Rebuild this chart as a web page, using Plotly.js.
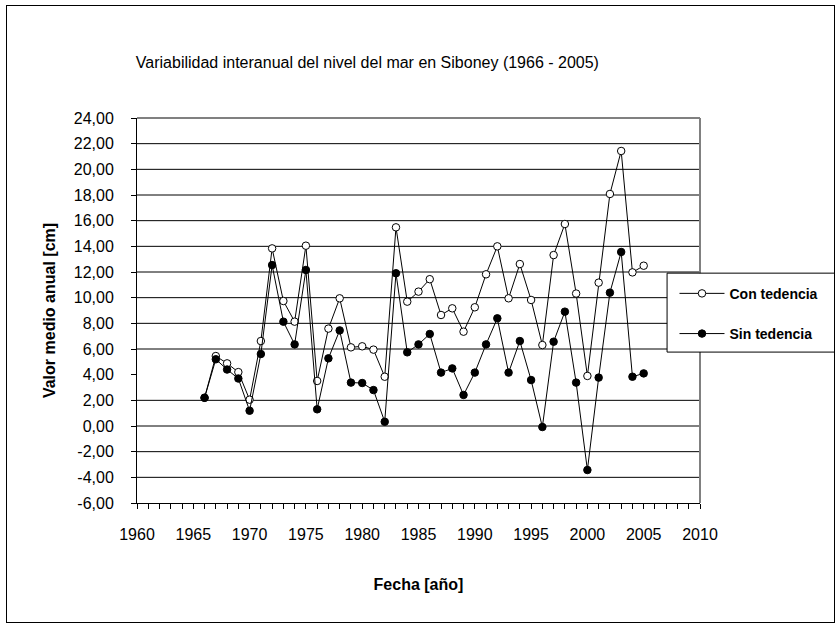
<!DOCTYPE html>
<html>
<head>
<meta charset="utf-8">
<script src="https://cdn.plot.ly/plotly-3.0.1.min.js"></script>
<style>
  html, body { margin: 0; padding: 0; background: #fff; }
  #wrap { position: relative; width: 835px; height: 626px; }
  #chart { width: 835px; height: 626px; }
  #frame { position: absolute; left: 6px; top: 5px; width: 829px; height: 618px;
           border: 1px solid #000; box-sizing: border-box; pointer-events: none; }
</style>
</head>
<body>
<div id="wrap">
  <div id="chart"></div>
  <div id="frame"></div>
</div>
<script>
// ---- data ----
const years = [1966,1967,1968,1969,1970,1971,1972,1973,1974,1975,1976,1977,1978,1979,1980,
               1981,1982,1983,1984,1985,1986,1987,1988,1989,1990,1991,1992,1993,1994,1995,
               1996,1997,1998,1999,2000,2001,2002,2003,2004,2005];
const conTendencia = [2.2,5.45,4.88,4.2,2.05,6.62,13.84,9.74,8.13,14.05,3.51,7.59,9.95,6.13,6.21,
                      5.95,3.84,15.48,9.69,10.47,11.44,8.65,9.17,7.35,9.25,11.82,14.0,9.95,12.62,9.82,
                      6.31,13.32,15.74,10.32,3.9,11.17,18.08,21.43,11.97,12.49];
const sinTendencia = [2.2,5.2,4.4,3.7,1.19,5.61,12.54,8.13,6.36,12.16,1.3,5.27,7.45,3.38,3.35,
                      2.8,0.33,11.9,5.74,6.36,7.17,4.16,4.49,2.42,4.16,6.36,8.39,4.16,6.62,3.58,
                      -0.08,6.57,8.91,3.38,-3.43,3.77,10.39,13.56,3.84,4.1];
const seriesNames = ["Con tedencia", "Sin tedencia"];
const yTickVals = [-6,-4,-2,0,2,4,6,8,10,12,14,16,18,20,22,24];
const yTickText = ["-6,00","-4,00","-2,00","0,00","2,00","4,00","6,00","8,00","10,00","12,00",
                   "14,00","16,00","18,00","20,00","22,00","24,00"];
const yGridVals = [-4,-2,0,2,6,8,10,12,14,16,18,20,22];
const xTickVals = [1960,1965,1970,1975,1980,1985,1990,1995,2000,2005,2010];
const titleText = "Variabilidad interanual del nivel del mar en Siboney (1966 - 2005)";
const xTitle = "Fecha [año]";
const yTitle = "Valor medio anual [cm]";

const FONT = "Liberation Sans, Arial, sans-serif";

const traces = [
  {
    x: years, y: conTendencia, name: seriesNames[0], type: "scatter", mode: "lines+markers",
    legendgroup: "a",
    line: { color: "#000", width: 1 },
    marker: { symbol: "circle", size: 7.5, color: "#fff", line: { color: "#000", width: 1 } }
  },
  {
    x: years, y: sinTendencia, name: seriesNames[1], type: "scatter", mode: "lines+markers",
    legendgroup: "b",
    line: { color: "#000", width: 1 },
    marker: { symbol: "circle", size: 7.5, color: "#000", line: { color: "#000", width: 1 } }
  }
];

const shapes = yGridVals.map(v => ({
  type: "line", xref: "paper", yref: "y", x0: 0, x1: 1, y0: v, y1: v,
  line: { color: "#000", width: 1 }, layer: "below"
}));
// plot area border (top & right, gray)
shapes.push({ type: "line", xref: "paper", yref: "paper", x0: 0, x1: 1, y0: 1, y1: 1,
              line: { color: "#808080", width: 2 }, layer: "below" });
shapes.push({ type: "line", xref: "paper", yref: "paper", x0: 1, x1: 1, y0: 0, y1: 1,
              line: { color: "#808080", width: 2 }, layer: "below" });
// legend box
shapes.push({ type: "rect", xref: "paper", yref: "paper", x0: 0.9415, x1: 1.26, y0: 0.392, y1: 0.597,
              fillcolor: "#fff", line: { color: "#000", width: 1 }, layer: "above" });

const layout = {
  width: 835, height: 626,
  margin: { l: 137, r: 134, t: 118, b: 123 },
  paper_bgcolor: "#fff", plot_bgcolor: "#fff",
  font: { family: FONT, color: "#000", size: 16 },
  title: {
    text: titleText, xref: "container", yref: "container",
    x: 0.44, xanchor: "center", y: 1 - 62/626, yanchor: "middle",
    font: { family: FONT, size: 16, color: "#000" }
  },
  xaxis: {
    range: [1960, 2010], tickvals: xTickVals, ticks: "outside", ticklen: 5, tickcolor: "#000",
    showgrid: false, zeroline: false, showline: true, linecolor: "#000", linewidth: 1,
    ticklabelstandoff: 12,
    minor: { dtick: 1, ticks: "outside", ticklen: 5, tickcolor: "#000", showgrid: false },
    tickfont: { family: FONT, size: 16 },
    title: { text: xTitle, standoff: 36, font: { family: FONT, size: 16, weight: "bold" } }
  },
  yaxis: {
    range: [-6, 24], tickvals: yTickVals, ticktext: yTickText, ticks: "outside", ticklen: 5,
    tickcolor: "#000", showgrid: false, zeroline: false, showline: true, linecolor: "#000",
    linewidth: 1, ticklabelstandoff: 14,
    tickfont: { family: FONT, size: 16 },
    title: { text: yTitle, standoff: 14, font: { family: FONT, size: 16, weight: "bold" } }
  },
  showlegend: true,
  legend: {
    x: 0.953, y: 0.585, xanchor: "left", yanchor: "top",
    bgcolor: "rgba(0,0,0,0)", borderwidth: 0,
    traceorder: "grouped", tracegroupgap: 19, itemwidth: 45,
    font: { family: FONT, size: 14, weight: "bold", color: "#000" }
  },
  shapes: shapes
};

Plotly.newPlot("chart", traces, layout, { staticPlot: true, displayModeBar: false });
</script>
</body>
</html>
